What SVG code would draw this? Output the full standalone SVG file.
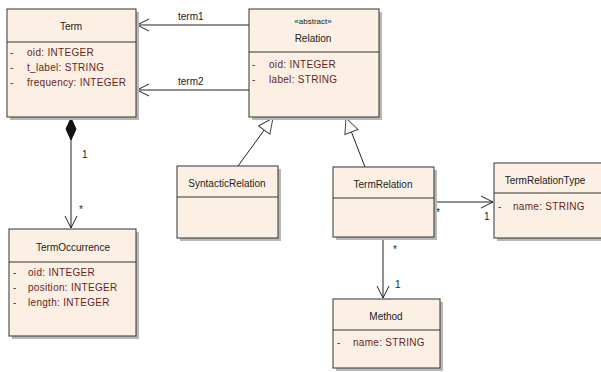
<svg xmlns="http://www.w3.org/2000/svg" width="601" height="372" viewBox="0 0 601 372">
<defs>
<style>
.box{fill:#FBF0E3;stroke:#333;stroke-width:1}
.sh{fill:#B8B8B8}
.div{stroke:#333;stroke-width:1}
.t{font-family:"Liberation Sans",Arial,sans-serif;font-size:10px;fill:#222;text-anchor:middle}
.a{font-family:"Liberation Sans",Arial,sans-serif;font-size:10px;fill:#6B1E1E;letter-spacing:0.3px}
.st{font-family:"Liberation Sans",Arial,sans-serif;font-size:8px;fill:#222;text-anchor:middle}
.l{font-family:"Liberation Sans",Arial,sans-serif;font-size:10px;fill:#222}
.c{stroke:#222;stroke-width:1;fill:none}
</style>
<marker id="open" markerWidth="13" markerHeight="14" refX="12" refY="7" orient="auto" markerUnits="userSpaceOnUse"><path d="M0,1 L12,7 L0,13" fill="none" stroke="#222" stroke-width="1"/></marker>
<marker id="tri" markerWidth="18" markerHeight="18" refX="16" refY="8" orient="auto" markerUnits="userSpaceOnUse"><path d="M1,1 L16,8 L1,15 Z" fill="#fff" stroke="#444" stroke-width="1"/></marker>
<marker id="dia" markerWidth="26" markerHeight="12" refX="1" refY="6" orient="auto" markerUnits="userSpaceOnUse"><path d="M1,6 L12,1 L23,6 L12,11 Z" fill="#111" stroke="#111"/></marker>
</defs>
<g id="connectors">
<line class="c" x1="249" y1="25" x2="137" y2="25" marker-end="url(#open)"/>
<text class="l" x="178" y="20">term1</text>
<line class="c" x1="249" y1="90" x2="137" y2="90" marker-end="url(#open)"/>
<text class="l" x="178" y="85">term2</text>
<line class="c" x1="71" y1="118" x2="71" y2="228" marker-start="url(#dia)" marker-end="url(#open)"/>
<text class="l" x="82" y="158">1</text>
<text class="l" x="79" y="213">*</text>
<line class="c" x1="238" y1="166" x2="273" y2="118" marker-end="url(#tri)"/>
<line class="c" x1="365" y1="167" x2="346" y2="118" marker-end="url(#tri)"/>
<line class="c" x1="434" y1="202" x2="493" y2="202" marker-end="url(#open)"/>
<text class="l" x="436" y="216">*</text>
<text class="l" x="484" y="220">1</text>
<line class="c" x1="383" y1="238" x2="383" y2="298" marker-end="url(#open)"/>
<text class="l" x="393" y="253">*</text>
<text class="l" x="395" y="288">1</text>
</g>
<g id="Term">
<rect class="sh" x="10" y="12" width="129" height="108"/>
<rect class="box" x="7" y="9" width="129" height="108"/>
<line class="div" x1="7" y1="42" x2="136" y2="42"/>
<text class="t" x="71" y="30">Term</text>
<text class="a" x="10" y="56">-</text><text class="a" x="27" y="56">oid: INTEGER</text>
<text class="a" x="10" y="71">-</text><text class="a" x="27" y="71">t_label: STRING</text>
<text class="a" x="10" y="86">-</text><text class="a" x="27" y="86">frequency: INTEGER</text>
</g>
<g id="Relation">
<rect class="sh" x="252" y="12" width="130" height="108"/>
<rect class="box" x="249" y="9" width="130" height="108"/>
<line class="div" x1="249" y1="52" x2="379" y2="52"/>
<text class="st" x="313" y="24">«abstract»</text>
<text class="t" x="313" y="42">Relation</text>
<text class="a" x="252" y="68">-</text><text class="a" x="269" y="68">oid: INTEGER</text>
<text class="a" x="252" y="83">-</text><text class="a" x="269" y="83">label: STRING</text>
</g>
<g id="TermOccurrence">
<rect class="sh" x="12" y="232" width="127" height="107"/>
<rect class="box" x="9" y="229" width="127" height="107"/>
<line class="div" x1="9" y1="262" x2="136" y2="262"/>
<text class="t" x="73" y="251">TermOccurrence</text>
<text class="a" x="13" y="276">-</text><text class="a" x="28" y="276">oid: INTEGER</text>
<text class="a" x="13" y="291">-</text><text class="a" x="28" y="291">position: INTEGER</text>
<text class="a" x="13" y="306">-</text><text class="a" x="28" y="306">length: INTEGER</text>
</g>
<g id="SyntacticRelation">
<rect class="sh" x="180" y="169" width="101" height="72"/>
<rect class="box" x="177" y="166" width="101" height="72"/>
<line class="div" x1="177" y1="197" x2="278" y2="197"/>
<text class="t" x="227" y="187">SyntacticRelation</text>
</g>
<g id="TermRelation">
<rect class="sh" x="336" y="170" width="101" height="70"/>
<rect class="box" x="333" y="167" width="101" height="70"/>
<line class="div" x1="333" y1="198" x2="434" y2="198"/>
<text class="t" x="383" y="188">TermRelation</text>
</g>
<g id="TermRelationType">
<rect class="sh" x="497" y="166" width="110" height="75"/>
<rect class="box" x="494" y="163" width="110" height="75"/>
<line class="div" x1="494" y1="193" x2="604" y2="193"/>
<text class="t" x="545" y="184">TermRelationType</text>
<text class="a" x="498" y="210">-</text><text class="a" x="513" y="210">name: STRING</text>
</g>
<g id="Method">
<rect class="sh" x="336" y="302" width="107" height="69"/>
<rect class="box" x="333" y="299" width="107" height="69"/>
<line class="div" x1="333" y1="330" x2="440" y2="330"/>
<text class="t" x="386" y="320">Method</text>
<text class="a" x="337" y="346">-</text><text class="a" x="353" y="346">name: STRING</text>
</g>
</svg>
